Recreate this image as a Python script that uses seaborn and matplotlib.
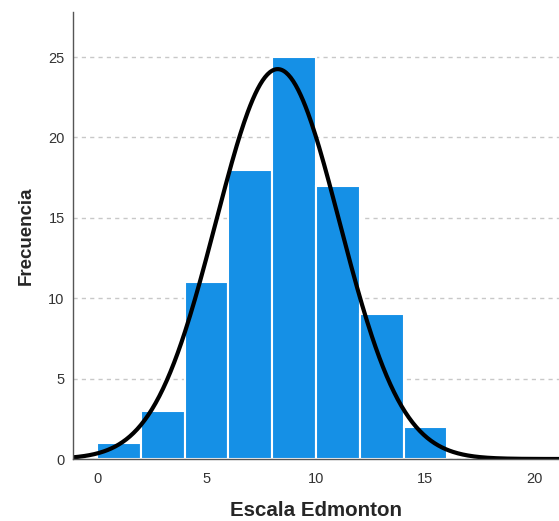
import numpy as np
import matplotlib
matplotlib.use("Agg")
import matplotlib.pyplot as plt
import seaborn as sns

# histogram of Escala Edmonton (bins of width 2)
bin_edges = [0, 2, 4, 6, 8, 10, 12, 14, 16]
counts = [1, 3, 11, 18, 25, 17, 9, 2]
bin_centers = [1, 3, 5, 7, 9, 11, 13, 15]

# normal curve parameters as shown by the chart
curve_mean = 8.25
curve_sd = 2.83
n_total = sum(counts)
bin_width = 2

sns.set_style("white")
plt.rcParams['font.family'] = ['Liberation Sans', 'DejaVu Sans']

fig = plt.figure(figsize=(5.59, 5.21), dpi=100)
ax = fig.add_axes([0.1306, 0.119, 0.8694, 0.858])

ax.yaxis.grid(True, linestyle=(0, (3, 3)), color="#c8c8c8", linewidth=1)
ax.set_axisbelow(True)

sns.histplot(x=bin_centers, weights=counts, bins=bin_edges, color="#1590e6",
             edgecolor="white", linewidth=1.5, alpha=1, ax=ax)

xs = np.linspace(-1.2, 21.2, 400)
ys = n_total * bin_width * np.exp(-(xs - curve_mean) ** 2 / (2 * curve_sd ** 2)) / (curve_sd * np.sqrt(2 * np.pi))
sns.lineplot(x=xs, y=ys, color="black", linewidth=3, ax=ax)

ax.set_xlim(-1.1, 21.1)
ax.set_ylim(0, 27.8)
ax.set_xticks([0, 5, 10, 15, 20])
ax.set_yticks([0, 5, 10, 15, 20, 25])
ax.tick_params(axis="x", length=0, labelsize=10.5, labelcolor="#333333", pad=9)
ax.tick_params(axis="y", length=0, labelsize=10.5, labelcolor="#333333", pad=6)

for side in ["top", "right"]:
    ax.spines[side].set_visible(False)
for side in ["left", "bottom"]:
    ax.spines[side].set_color("#555555")
    ax.spines[side].set_linewidth(1)

ax.set_xlabel("Escala Edmonton", fontsize=14.8, fontweight="bold", labelpad=11)
ax.set_ylabel("Frecuencia", fontsize=13.5, fontweight="bold", labelpad=10)

plt.savefig("out.png", dpi=100)
